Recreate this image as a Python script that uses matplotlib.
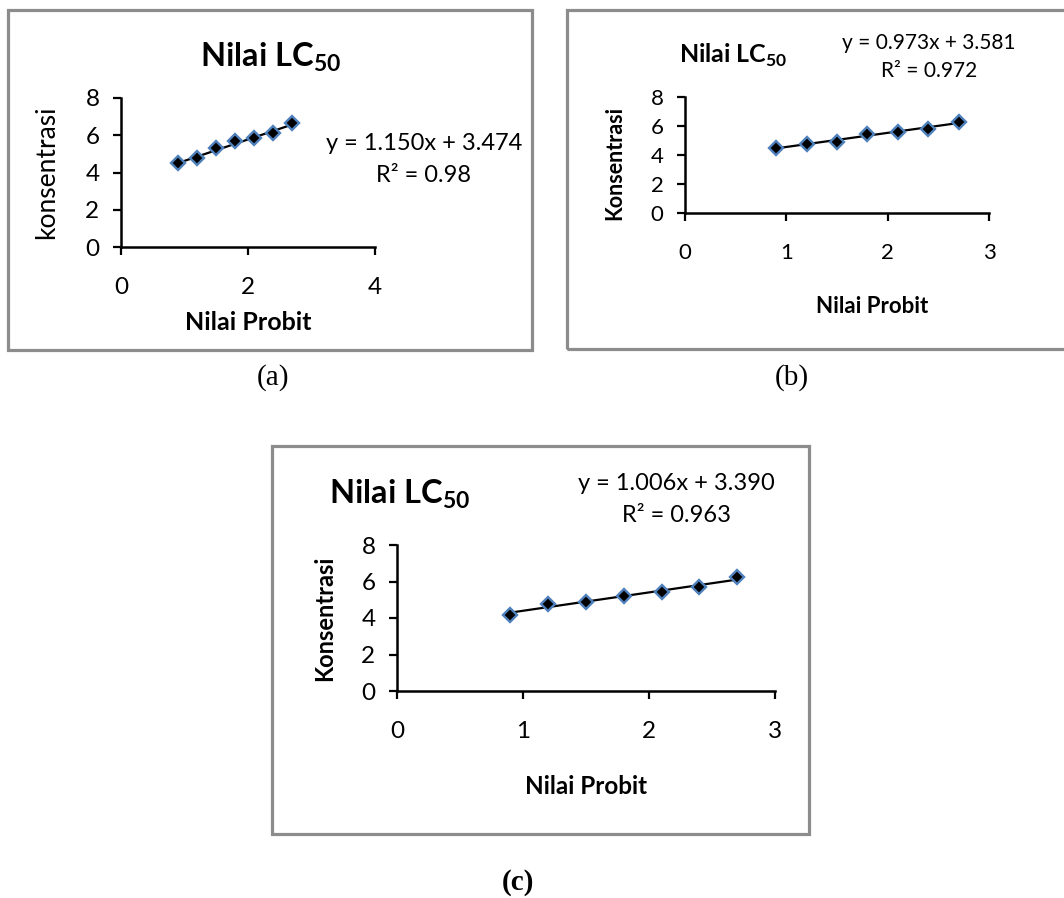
import numpy as np
import matplotlib
matplotlib.use("Agg")
from matplotlib import pyplot as plt
from matplotlib.patches import Rectangle

plt.rcParams['font.family'] = ['Lato', 'DejaVu Sans']
plt.rcParams['mathtext.fontset'] = 'custom'
plt.rcParams['mathtext.rm'] = 'Lato'
plt.rcParams['mathtext.bf'] = 'Lato:bold'

# data
nilai_probit = [0.9, 1.2, 1.5, 1.8, 2.1, 2.4, 2.7]
konsentrasi_a = [4.5, 4.8, 5.3, 5.7, 5.85, 6.1, 6.65]
konsentrasi_b = [4.45, 4.75, 4.9, 5.45, 5.6, 5.8, 6.3]
konsentrasi_c = [4.15, 4.75, 4.9, 5.2, 5.4, 5.7, 6.25]

# trendline (slope, intercept, r2) as printed on the charts
trend_a = (1.150, 3.474, "0.98")
trend_b = (0.973, 3.581, "0.972")
trend_c = (1.006, 3.390, "0.963")

W, H = 1064, 898
fig = plt.figure(figsize=(W / 100, H / 100), dpi=100)


def fx(x):
    return x / W


def fy(y):
    return 1 - y / H


def box(x0, y0, x1, y1):
    r = Rectangle((fx(x0), fy(y1)), (x1 - x0) / W, (y1 - y0) / H,
                  transform=fig.transFigure, fill=False,
                  ec='#8c8c8c', lw=2.3)
    fig.add_artist(r)


def panel(axpx, xs, ys, trend, xmax, fs, xpad):
    x0, y0, x1, y1 = axpx
    ax = fig.add_axes([fx(x0), fy(y1), (x1 - x0) / W, (y1 - y0) / H])
    slope, icpt, r2 = trend
    xx = np.array([xs[0], xs[-1]])
    ax.plot(xx, slope * xx + icpt, color='black', lw=1.6, zorder=2)
    ax.plot(xs, ys, ls='none', marker='D', ms=7, mfc='black',
            mec='#4f81bd', mew=1.7, zorder=3)
    ax.set_xlim(0, xmax)
    ax.set_ylim(0, 8)
    ax.set_xticks(np.arange(0, xmax + 1, 1 if xmax == 3 else 2))
    ax.set_yticks([0, 2, 4, 6, 8])
    for s in ['top', 'right']:
        ax.spines[s].set_visible(False)
    for s in ['left', 'bottom']:
        ax.spines[s].set_linewidth(1.8)
        ax.spines[s].set_clip_on(False)
    ax.tick_params(axis='both', direction='out', length=5.5, width=1.6,
                   labelsize=fs)
    ax.tick_params(axis='x', pad=xpad)
    ax.tick_params(axis='y', pad=10)
    ax.patch.set_alpha(0)
    return ax


def eq_text(cx, cy1, cy2, trend, fs):
    slope, icpt, r2 = trend
    fig.text(fx(cx), fy(cy1), "y = %.3fx + %.3f" % (slope, icpt),
             ha='center', va='center', fontsize=fs)
    fig.text(fx(cx), fy(cy2), "R² = " + r2, ha='center', va='center',
             fontsize=fs)


def title(cx, cy, fs):
    fig.text(fx(cx), fy(cy), r"Nilai LC$_{\mathbf{50}}$", ha='center',
             va='center', fontsize=fs, fontweight='bold')


# (a)
box(8, 10, 532, 350)
panel((121, 98, 375, 247), nilai_probit, konsentrasi_a, trend_a, 4, 17.5, 16)
title(271, 57, 23.5)
eq_text(424, 143, 175, trend_a, 17)
fig.text(fx(47), fy(172), "konsentrasi", rotation=90, ha='center',
         va='center', fontsize=19)
fig.text(fx(248), fy(323), "Nilai Probit", ha='center', va='center',
         fontsize=18, fontweight='bold')
fig.text(fx(273), fy(378), "(a)", ha='center', va='center', fontsize=21,
         family='Liberation Serif')

# (b)
box(567, 10, 1067, 349)
panel((685, 97, 989, 213), nilai_probit, konsentrasi_b, trend_b, 3, 16, 16)
title(733, 55, 18)
eq_text(929, 43, 71, trend_b, 15)
fig.text(fx(615), fy(163), "Konsentrasi", rotation=90, ha='center',
         va='center', fontsize=15.5, fontweight='bold')
fig.text(fx(872), fy(307), "Nilai Probit", ha='center', va='center',
         fontsize=16, fontweight='bold')
fig.text(fx(792), fy(378), "(b)", ha='center', va='center', fontsize=21,
         family='Liberation Serif')

# (c)
box(272, 446, 809, 834)
panel((397, 545, 775, 691), nilai_probit, konsentrasi_c, trend_c, 3, 17.5, 16)
title(400, 494, 23.5)
eq_text(676, 483, 516, trend_c, 17)
fig.text(fx(325), fy(618), "Konsentrasi", rotation=90, ha='center',
         va='center', fontsize=17, fontweight='bold')
fig.text(fx(586), fy(786), "Nilai Probit", ha='center', va='center',
         fontsize=17.5, fontweight='bold')
fig.text(fx(518), fy(883), "(c)", ha='center', va='center', fontsize=21,
         family='Liberation Serif', fontweight='bold')

fig.savefig("out.png", dpi=100)
